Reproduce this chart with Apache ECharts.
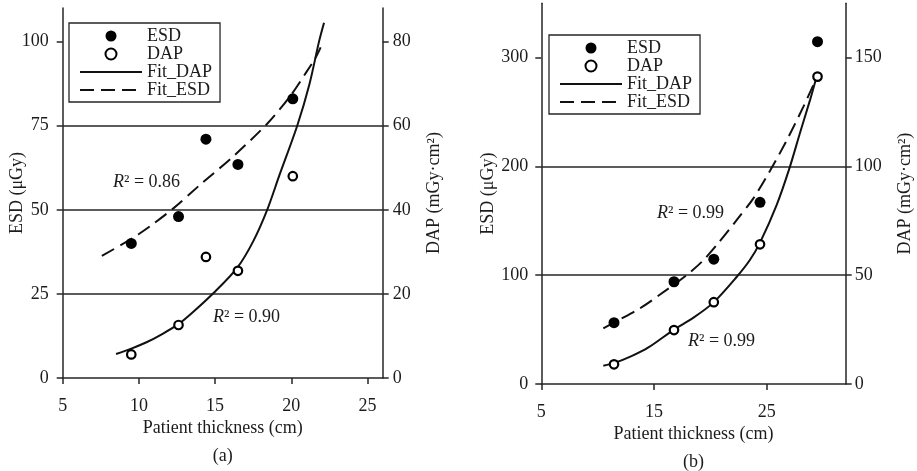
<!DOCTYPE html>
<html><head><meta charset="utf-8">
<script src="https://cdn.jsdelivr.net/npm/echarts@6/dist/echarts.min.js"></script>
<style>html,body{margin:0;padding:0;background:#fff}#c{width:917px;height:471px}</style>
</head><body><div id="c"></div>
<script>
const seriesNames = ['ESD', 'DAP', 'Fit_DAP', 'Fit_ESD'];

// ---- Panel (a) ----
const thicknessA = [9.5, 12.6, 14.4, 16.5, 20.1];
const esdA = [40, 48, 71, 63.5, 83];
const dapA = [5.6, 12.6, 28.8, 25.5, 48];
const fitDapAX = [8.5, 9.5, 10.5, 11.5, 12.6, 13.5, 14.9, 16.45, 17.5, 18.42, 19.2, 20.39, 21.2, 21.82, 22.15];
const fitDapAY = [5.7, 7.0, 8.5, 10.4, 12.8, 15.5, 20.2, 26.2, 32.5, 40, 48, 60, 70, 80, 84.5];
const fitEsdAX = [7.57, 9, 10, 11, 12.28, 14.03, 16.22, 18.42, 19.96, 21, 21.6, 21.93];
const fitEsdAY = [36.3, 40, 42.8, 46, 50.5, 57.5, 66, 75.6, 84, 91, 95.3, 98.3];
const xTicksA = [5, 10, 15, 20, 25];
const esdTicksA = [0, 25, 50, 75, 100];
const dapTicksA = [0, 20, 40, 60, 80];
const r2A = ['0.86', '0.90'];

// ---- Panel (b) ----
const thicknessB = [11.45, 16.77, 20.3, 24.4, 29.5];
const esdB = [56.4, 94, 114.8, 167, 314.7];
const dapB = [9.05, 24.8, 37.6, 64.2, 141.3];
const fitDapBX = [10.5, 11.5, 13, 14.5, 16.71, 18.5, 20.26, 22.34, 23.5, 24.4, 25.89, 27, 27.95, 28.84, 29.35];
const fitDapBY = [8.4, 9.7, 12.8, 16.8, 24.8, 30.5, 37.4, 49.3, 57, 65, 82.5, 99, 115.5, 130.6, 140];
const fitEsdBX = [10.5, 12, 13.76, 15.5, 17.9, 19.3, 20.56, 22.34, 23.81, 25.29, 26.78, 28.25, 29.35];
const fitEsdBY = [51.2, 59.5, 69.6, 82, 100.2, 113, 127.8, 150.8, 170.7, 196, 224.3, 255, 280];
const xTicksB = [5, 15, 25];
const esdTicksB = [0, 100, 200, 300];
const dapTicksB = [0, 50, 100, 150];
const r2B = ['0.99', '0.99'];

const FONT = 'Liberation Serif';
const INK = '#1c1c1c';
const LINE = '#262626';
const zip = (a, b) => a.map((v, i) => [v, b[i]]);

function xAxisCfg(gi, min, max, interval, ticks, caption) {
  return {
    type: 'value', gridIndex: gi, min, max, interval,
    name: 'Patient thickness (cm)\n' + caption,
    nameLocation: 'middle', nameGap: 36, nameMoveOverlap: false,
    nameTextStyle: { fontFamily: FONT, fontSize: 18, color: INK, lineHeight: 28 },
    axisLine: { show: true, onZero: false, lineStyle: { color: LINE, width: 1.5 } },
    axisTick: { show: true, inside: false, length: 6, customValues: ticks, lineStyle: { color: LINE, width: 1.5 } },
    axisLabel: { customValues: ticks, margin: 19, fontFamily: FONT, fontSize: 18, color: INK },
    splitLine: { show: false }
  };
}
function yAxisCfg(gi, pos, min, max, interval, ticks, name, gap, labelMargin, split) {
  return {
    type: 'value', gridIndex: gi, position: pos, min, max, interval,
    name, nameLocation: 'middle', nameRotate: 90, nameGap: gap, nameMoveOverlap: false,
    nameTextStyle: { fontFamily: FONT, fontSize: 18, color: INK },
    axisLine: { show: true, onZero: false, lineStyle: { color: LINE, width: 1.5 } },
    axisTick: { show: true, inside: false, length: 6, customValues: ticks, lineStyle: { color: LINE, width: 1.5 } },
    axisLabel: { customValues: ticks, margin: labelMargin, fontFamily: FONT, fontSize: 18, color: INK },
    splitLine: { show: split, showMinLine: false, showMaxLine: false, lineStyle: { color: LINE, width: 1.5 } }
  };
}
function panelSeries(xi, yEsd, yDap, thick, esd, dap, fdx, fdy, fex, fey) {
  return [
    { name: 'ESD', type: 'scatter', xAxisIndex: xi, yAxisIndex: yEsd, data: zip(thick, esd),
      symbol: 'circle', symbolSize: 11, itemStyle: { color: '#000', opacity: 1 }, z: 5 },
    { name: 'DAP', type: 'scatter', xAxisIndex: xi, yAxisIndex: yDap, data: zip(thick, dap),
      symbol: 'circle', symbolSize: 8.5, itemStyle: { color: '#fff', borderColor: '#000', borderWidth: 2.2, opacity: 1 }, z: 5 },
    { name: 'Fit_DAP', type: 'line', xAxisIndex: xi, yAxisIndex: yDap, data: zip(fdx, fdy),
      showSymbol: false, symbol: 'none', smooth: 0.3, itemStyle: { color: '#111' },
      lineStyle: { color: '#111', width: 2 }, z: 3 },
    { name: 'Fit_ESD', type: 'line', xAxisIndex: xi, yAxisIndex: yEsd, data: zip(fex, fey),
      showSymbol: false, symbol: 'none', smooth: 0.3, itemStyle: { color: '#111' },
      lineStyle: { color: '#111', width: 2, type: [14, 7] }, z: 3 }
  ];
}
function legendCfg(left, top, lh) {
  return {
    left, top, orient: 'vertical', selectedMode: false,
    data: seriesNames.map(n => n.startsWith('Fit') ? { name: n, itemStyle: { opacity: 0 } } : { name: n }),
    padding: [4, 8, 3, 10], itemWidth: 62, itemHeight: 11, itemGap: 0,
    borderColor: LINE, borderWidth: 1.3, backgroundColor: '#fff',
    textStyle: { fontFamily: FONT, fontSize: 18, color: INK, lineHeight: lh }
  };
}
function r2Text(x, y, val) {
  return {
    type: 'text', x, y, z: 10,
    style: {
      text: '{i|R}{n|² = ' + val + '}', verticalAlign: 'middle',
      rich: {
        i: { fontFamily: FONT, fontSize: 18, fontStyle: 'italic', fill: INK },
        n: { fontFamily: FONT, fontSize: 18, fill: INK }
      }
    }
  };
}

const chart = echarts.init(document.getElementById('c'), null, { renderer: 'canvas' });
chart.setOption({
  animation: false,
  backgroundColor: '#fff',
  grid: [
    { left: 62.7, top: 8, width: 320, height: 370, outerBoundsMode: 'none', containLabel: false },
    { left: 541.3, top: 3.3, width: 304.4, height: 380.7, outerBoundsMode: 'none', containLabel: false }
  ],
  xAxis: [
    xAxisCfg(0, 5, 26, 5, xTicksA, '(a)'),
    xAxisCfg(1, 5, 32, 10, xTicksB, '(b)')
  ],
  yAxis: [
    yAxisCfg(0, 'left', 0, 110, 25, esdTicksA, 'ESD (μGy)', 36, 14, true),
    yAxisCfg(0, 'right', 0, 88, 20, dapTicksA, 'DAP (mGy·cm²)', 43, 10, false),
    yAxisCfg(1, 'left', 0, 350, 100, esdTicksB, 'ESD (μGy)', 44, 13, true),
    yAxisCfg(1, 'right', 0, 175, 50, dapTicksB, 'DAP (mGy·cm²)', 51, 9, false)
  ],
  legend: [legendCfg(69, 23, 17.5), legendCfg(549, 35, 17.2)],
  series: [
    ...panelSeries(0, 0, 1, thicknessA, esdA, dapA, fitDapAX, fitDapAY, fitEsdAX, fitEsdAY),
    ...panelSeries(1, 2, 3, thicknessB, esdB, dapB, fitDapBX, fitDapBY, fitEsdBX, fitEsdBY)
  ],
  graphic: [
    r2Text(113, 182, r2A[0]),
    r2Text(213, 317, r2A[1]),
    r2Text(657, 213, r2B[0]),
    r2Text(688, 341, r2B[1])
  ]
});
</script>
</body></html>
